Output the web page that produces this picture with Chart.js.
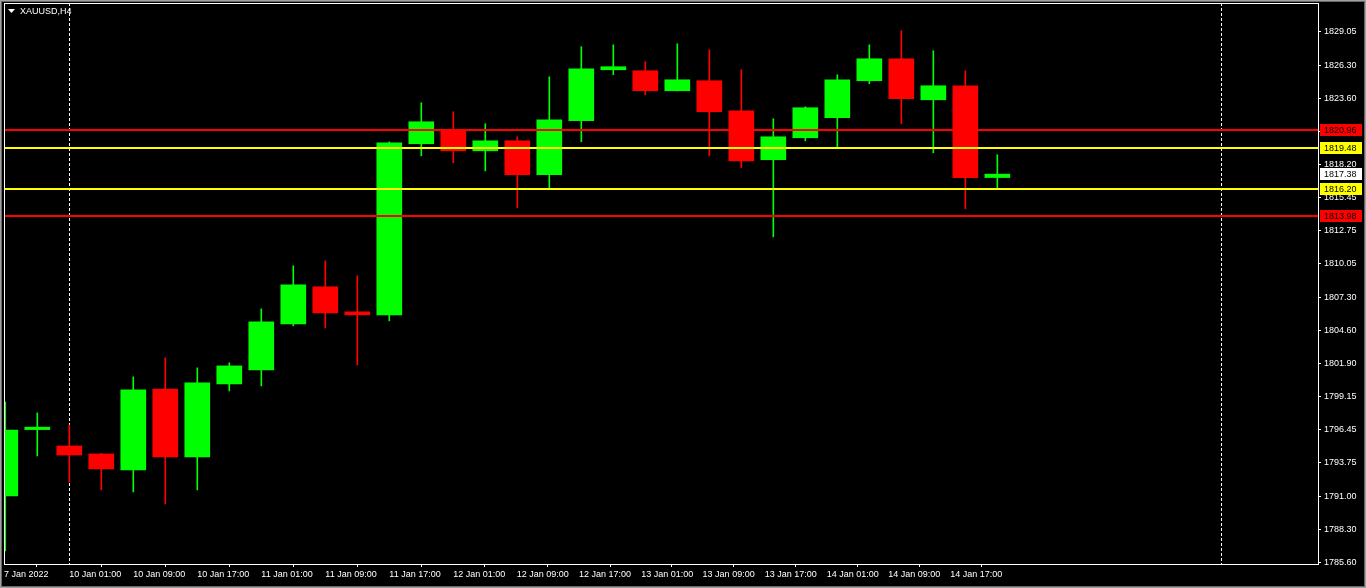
<!DOCTYPE html>
<html>
<head>
<meta charset="utf-8">
<title>XAUUSD,H4</title>
<script src="https://cdn.jsdelivr.net/npm/chart.js@4.4.1/dist/chart.umd.min.js"></script>
<style>
html, body { margin: 0; padding: 0; background: #000; overflow: hidden; }
canvas { display: block; }
</style>
</head>
<body>
<canvas id="chart" width="1366" height="588"></canvas>
<script>
// XAUUSD H4, 7 Jan - 14 Jan 2022
const symbol = 'XAUUSD,H4';

const times = [
  '7 Jan 16:00', '7 Jan 20:00',
  '10 Jan 01:00', '10 Jan 05:00', '10 Jan 09:00', '10 Jan 13:00', '10 Jan 17:00', '10 Jan 21:00',
  '11 Jan 01:00', '11 Jan 05:00', '11 Jan 09:00', '11 Jan 13:00', '11 Jan 17:00', '11 Jan 21:00',
  '12 Jan 01:00', '12 Jan 05:00', '12 Jan 09:00', '12 Jan 13:00', '12 Jan 17:00', '12 Jan 21:00',
  '13 Jan 01:00', '13 Jan 05:00', '13 Jan 09:00', '13 Jan 13:00', '13 Jan 17:00', '13 Jan 21:00',
  '14 Jan 01:00', '14 Jan 05:00', '14 Jan 09:00', '14 Jan 13:00', '14 Jan 17:00', '14 Jan 21:00'
];

const openP = [1791.01, 1796.45, 1795.11, 1794.46, 1793.15, 1799.78, 1794.21, 1800.19,
  1801.34, 1805.11, 1808.15, 1806.10, 1805.85, 1819.87, 1821.01, 1819.29,
  1820.11, 1817.33, 1821.75, 1825.93, 1825.85, 1824.21, 1825.03, 1822.57,
  1818.56, 1820.36, 1822.00, 1825.03, 1826.83, 1823.47, 1824.62, 1817.10];
const highP = [1798.72, 1797.82, 1796.83, 1794.50, 1800.77, 1802.33, 1801.51, 1801.92,
  1806.34, 1809.87, 1810.28, 1809.05, 1820.03, 1823.23, 1822.49, 1821.51,
  1820.44, 1825.36, 1827.82, 1827.98, 1826.59, 1828.06, 1827.57, 1825.93,
  1821.92, 1822.90, 1825.52, 1827.98, 1829.13, 1827.49, 1825.85, 1818.97];
const lowP = [1786.51, 1794.29, 1792.16, 1791.51, 1791.34, 1790.36, 1791.51, 1799.62,
  1800.03, 1804.95, 1804.78, 1801.75, 1805.36, 1818.88, 1818.31, 1817.65,
  1814.62, 1816.26, 1820.03, 1825.52, 1823.88, 1824.20, 1818.88, 1817.90,
  1812.24, 1820.11, 1819.54, 1824.78, 1821.51, 1819.13, 1814.54, 1816.26];
const closeP = [1796.42, 1796.65, 1794.37, 1793.23, 1799.70, 1794.21, 1800.28, 1801.67,
  1805.28, 1808.31, 1806.01, 1805.85, 1819.95, 1821.67, 1819.29, 1820.11,
  1817.33, 1821.83, 1826.01, 1826.18, 1824.21, 1825.11, 1822.49, 1818.47,
  1820.44, 1822.82, 1825.11, 1826.83, 1823.56, 1824.62, 1817.08, 1817.38];

// price scale labels
const yTicks = [1785.60, 1788.30, 1791.00, 1793.75, 1796.45, 1799.15, 1801.90, 1804.60,
  1807.30, 1810.05, 1812.75, 1815.45, 1818.20, 1820.90, 1823.60, 1826.30, 1829.05];

// time scale labels (position in bars, as MT4 puts them)
const xTickPos = [-0.04, 2, 4, 6, 8, 10, 12, 14, 15.98, 17.93, 19.87, 21.79, 23.73, 25.67, 27.59, 29.53];
const xTickText = ['7 Jan 2022', '10 Jan 01:00', '10 Jan 09:00', '10 Jan 17:00', '11 Jan 01:00',
  '11 Jan 09:00', '11 Jan 17:00', '12 Jan 01:00', '12 Jan 09:00', '12 Jan 17:00', '13 Jan 01:00',
  '13 Jan 09:00', '13 Jan 17:00', '14 Jan 01:00', '14 Jan 09:00', '14 Jan 17:00'];

// horizontal levels
const levels = [1820.96, 1819.48, 1816.20, 1813.98];
const levelColors = ['#ff0000', '#ffff00', '#ffff00', '#ff0000'];

// period separators (bar index)
const separators = [2, 38];

const UP = '#00ff00';
const DOWN = '#ff0000';
const FONT = '"Liberation Sans", Arial, sans-serif';

const candleColors = openP.map((o, i) => closeP[i] >= o ? UP : DOWN);
const bodies = openP.map((o, i) => ({ x: i, y: [o, closeP[i]] }));
const wicks = lowP.map((l, i) => ({ x: i, y: [l, highP[i]] }));

// no extra room for the edge labels, the plot has to sit at fixed pixels
function noPad(scale) {
  scale.paddingTop = 0;
  scale.paddingBottom = 0;
  scale.paddingLeft = 0;
  scale.paddingRight = 0;
}

const mtPlugin = {
  id: 'mt4',
  beforeDraw(chart) {
    const c = chart.ctx;
    c.save();
    c.fillStyle = '#000';
    c.fillRect(0, 0, chart.width, chart.height);
    // window frame
    c.strokeStyle = '#a0a0a0';
    c.lineWidth = 1;
    c.strokeRect(0.5, 0.5, chart.width - 1, chart.height - 1);
    c.strokeStyle = '#696969';
    c.strokeRect(1.5, 1.5, chart.width - 3, chart.height - 3);
    c.restore();
  },
  beforeDatasetsDraw(chart) {
    const c = chart.ctx, a = chart.chartArea, x = chart.scales.x;
    c.save();
    c.strokeStyle = '#ffffff';
    c.lineWidth = 1;
    c.setLineDash([3, 2]);
    separators.forEach(s => {
      const px = Math.round(x.getPixelForValue(s)) + 0.5;
      c.beginPath();
      c.moveTo(px, a.top);
      c.lineTo(px, a.bottom);
      c.stroke();
    });
    c.restore();
  },
  afterDatasetsDraw(chart) {
    const c = chart.ctx, a = chart.chartArea, y = chart.scales.y;
    c.save();
    c.lineWidth = 2;
    levels.forEach((v, i) => {
      const py = Math.round(y.getPixelForValue(v));
      c.strokeStyle = levelColors[i];
      c.beginPath();
      c.moveTo(a.left, py);
      c.lineTo(a.right, py);
      c.stroke();
    });
    c.restore();
  },
  afterDraw(chart) {
    const c = chart.ctx, a = chart.chartArea, y = chart.scales.y;
    c.save();
    // plot border
    c.strokeStyle = '#ffffff';
    c.lineWidth = 1;
    c.strokeRect(a.left + 0.5, a.top + 0.5, a.right - a.left, a.bottom - a.top);

    // symbol caption
    c.fillStyle = '#ffffff';
    c.beginPath();
    c.moveTo(8, 9);
    c.lineTo(15, 9);
    c.lineTo(11.5, 13);
    c.closePath();
    c.fill();
    c.font = '9px ' + FONT;
    c.textBaseline = 'middle';
    c.textAlign = 'left';
    c.fillText(symbol, 20, 12);

    // price tags
    const tag = (v, bg) => {
      const py = Math.round(y.getPixelForValue(v));
      c.fillStyle = bg;
      c.fillRect(a.right + 2, py - 6, 42, 12);
      c.fillStyle = '#000000';
      c.fillText(v.toFixed(2), a.right + 6, py + 0.5);
    };
    levels.forEach((v, i) => tag(v, levelColors[i]));
    tag(closeP[closeP.length - 1], '#ffffff');
    c.restore();
  }
};

new Chart(document.getElementById('chart'), {
  type: 'bar',
  data: {
    datasets: [
      {
        label: 'body',
        data: bodies,
        backgroundColor: candleColors,
        borderWidth: 0,
        barThickness: 25,
        minBarLength: 2,
        grouped: false,
        order: 1
      },
      {
        label: 'wick',
        data: wicks,
        backgroundColor: candleColors,
        borderWidth: 0,
        barThickness: 1,
        grouped: false,
        order: 2
      }
    ]
  },
  options: {
    responsive: false,
    animation: false,
    devicePixelRatio: 1,
    layout: { padding: { left: 4, top: 3, right: 0, bottom: 0 } },
    plugins: {
      legend: { display: false },
      tooltip: { enabled: false }
    },
    scales: {
      x: {
        type: 'linear',
        min: -0.04,
        max: 41.02,
        offset: false,
        border: { display: false },
        grid: { drawOnChartArea: false, drawTicks: true, tickLength: 3, color: '#ffffff' },
        afterBuildTicks: scale => { scale.ticks = xTickPos.map(v => ({ value: v })); },
        afterFit: scale => { scale.height = 24; noPad(scale); },
        ticks: {
          autoSkip: false,
          maxRotation: 0,
          align: 'start',
          padding: 2,
          color: '#ffffff',
          font: { family: FONT, size: 9 },
          callback: (v, i) => xTickText[i]
        }
      },
      y: {
        position: 'right',
        min: 1785.44,
        max: 1831.40,
        border: { display: false },
        grid: { drawOnChartArea: false, drawTicks: true, tickLength: 3, color: '#ffffff' },
        afterBuildTicks: scale => { scale.ticks = yTicks.map(v => ({ value: v })); },
        afterFit: scale => { scale.width = 48; noPad(scale); },
        ticks: {
          padding: 3,
          color: '#ffffff',
          font: { family: FONT, size: 9 },
          callback: v => v.toFixed(2)
        }
      }
    }
  },
  plugins: [mtPlugin]
});
</script>
</body>
</html>
